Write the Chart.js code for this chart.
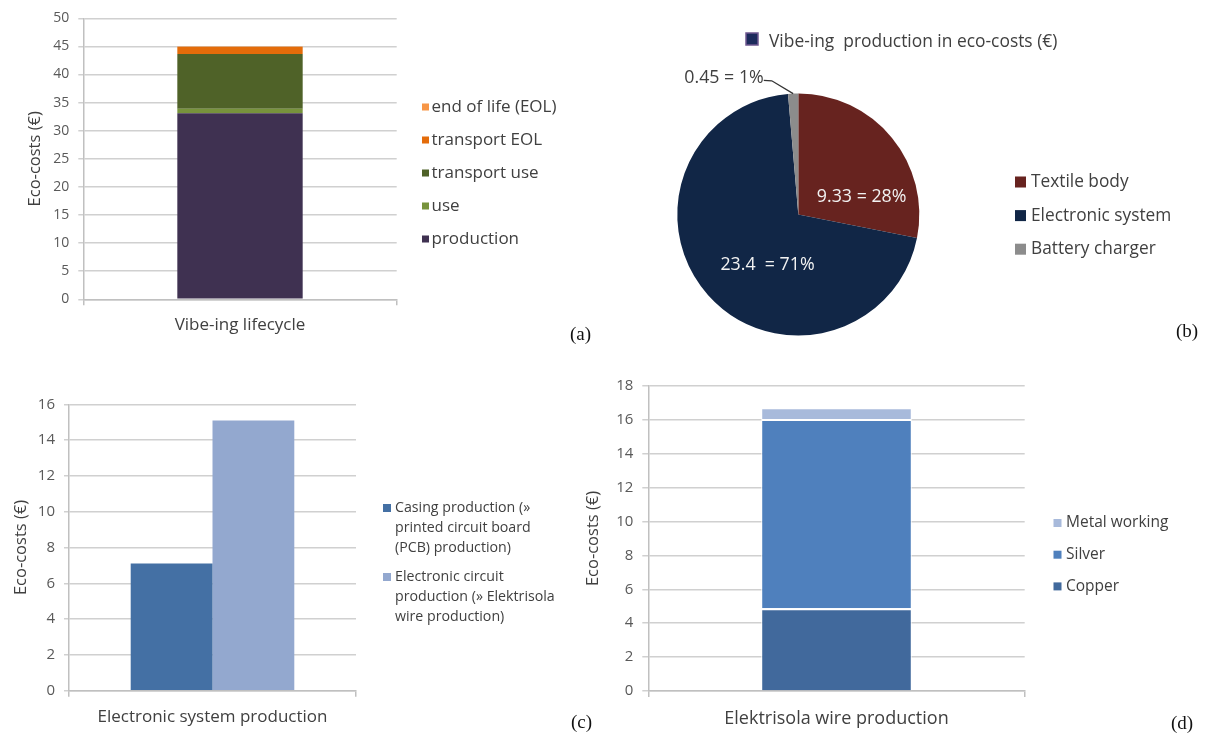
<!DOCTYPE html>
<html><head><meta charset="utf-8">
<script src="https://cdn.jsdelivr.net/npm/chart.js@4.4.1/dist/chart.umd.min.js"></script>
<style>
html,body{margin:0;padding:0;background:#fff;}
#wrap{position:relative;width:1205px;height:733px;overflow:hidden;background:#fff;}
canvas{position:absolute;left:0;top:0;}
.tag{position:absolute;font-family:"Liberation Serif","Times New Roman",serif;font-size:19px;color:#111;line-height:22px;}
</style></head><body>
<div id="wrap">
<canvas id="ca" width="1205" height="733"></canvas>
<canvas id="cb" width="1205" height="733"></canvas>
<canvas id="cc" width="1205" height="733"></canvas>
<canvas id="cd" width="1205" height="733"></canvas>
<div class="tag" style="left:570px;top:323px">(a)</div>
<div class="tag" style="left:1176px;top:320px">(b)</div>
<div class="tag" style="left:571px;top:711px">(c)</div>
<div class="tag" style="left:1171px;top:712px">(d)</div>
</div>
<script>
// ---------- data ----------
const yTitle = 'Eco-costs (€)';

// (a) lifecycle
const lifecycleCategories = ['Vibe-ing lifecycle'];
const lifecycleSeries = ['production', 'use', 'transport use', 'transport EOL', 'end of life (EOL)'];
const production = [33.1];
const use = [0.8];
const transportUse = [9.75];
const transportEOL = [1.3];
const endOfLife = [0.05];
const lifecycleTicks = [0, 5, 10, 15, 20, 25, 30, 35, 40, 45, 50];

// (b) production pie
const pieTitle = 'Vibe-ing  production in eco-costs (€)';
const pieParts = ['Textile body', 'Electronic system', 'Battery charger'];
const pieValues = [9.33, 23.4, 0.45];

// (c) electronic system
const esCategories = ['Electronic system production'];
const esSeries = ['Casing production (» printed circuit board (PCB) production)',
                  'Electronic circuit production (» Elektrisola wire production)'];
const casing = [7.1];
const circuit = [15.1];
const esTicks = [0, 2, 4, 6, 8, 10, 12, 14, 16];

// (d) wire
const wireCategories = ['Elektrisola wire production'];
const wireSeries = ['Copper', 'Silver', 'Metal working'];
const copper = [4.88];
const silver = [11.17];
const metalWorking = [0.69];
const wireTicks = [0, 2, 4, 6, 8, 10, 12, 14, 16, 18];

// ---------- styling / helpers ----------
const FONT = '"Open Sans", Lato, sans-serif';
Chart.defaults.font.family = FONT;
Chart.defaults.animation = false;
Chart.defaults.responsive = false;
Chart.defaults.devicePixelRatio = 1;
Chart.defaults.plugins.legend.display = false;
Chart.defaults.plugins.tooltip.enabled = false;

function wrapText(ctx, text, maxW) {
  if (!maxW) return [text];
  const words = text.split(' '); const lines = []; let cur = '';
  words.forEach(w => {
    const t = cur ? cur + ' ' + w : w;
    if (cur && ctx.measureText(t).width > maxW) { lines.push(cur); cur = w; } else cur = t;
  });
  if (cur) lines.push(cur);
  return lines;
}

const panelLegend = {
  id: 'panelLegend',
  afterDraw(chart, args, o) {
    if (!o || o.x === undefined) return;
    const ctx = chart.ctx; ctx.save();
    ctx.font = `${o.size}px ${FONT}`; ctx.textBaseline = 'middle'; ctx.textAlign = 'left';
    let items;
    if (o.source === 'labels') {
      const ds = chart.data.datasets[0];
      items = chart.data.labels.map((l, i) => ({text: l, color: ds.backgroundColor[i]}));
    } else {
      items = chart.data.datasets.map(d => ({text: d.label, color: d.backgroundColor}));
    }
    if (o.reverse) items.reverse();
    let y = o.y;
    const lh = o.lineHeight || 0;
    items.forEach(it => {
      const lines = wrapText(ctx, it.text, o.maxWidth);
      ctx.fillStyle = it.color;
      ctx.fillRect(o.x, y - o.box / 2 + (o.boxDy || 0), o.box, o.box);
      ctx.fillStyle = o.color;
      lines.forEach((ln, k) => ctx.fillText(ln, o.x + o.box + o.gap, y + k * lh));
      y += (lines.length - 1) * lh + o.dy;
    });
    if (o.header) {
      const h = o.header;
      ctx.font = `${h.size}px ${FONT}`;
      ctx.fillStyle = h.fill; ctx.fillRect(h.x, h.y - h.box / 2, h.box, h.box);
      ctx.strokeStyle = h.stroke; ctx.lineWidth = 1.5; ctx.strokeRect(h.x, h.y - h.box / 2, h.box, h.box);
      ctx.fillStyle = o.color;
      ctx.fillText(chart.data.datasets[0].label, h.x + h.box + h.gap, h.y + (h.textDy || 0));
    }
    ctx.restore();
  }
};

const sliceLabels = {
  id: 'sliceLabels',
  afterDatasetsDraw(chart, args, o) {
    if (!o || !o.items) return;
    const meta = chart.getDatasetMeta(0); const ds = chart.data.datasets[0];
    const total = ds.data.reduce((a, b) => a + b, 0);
    const ctx = chart.ctx; ctx.save();
    ctx.font = `${o.size}px ${FONT}`; ctx.textBaseline = 'middle'; ctx.textAlign = 'center';
    meta.data.forEach((arc, i) => {
      const st = o.items[i]; const v = ds.data[i];
      const txt = v + st.sep + Math.round(v / total * 100) + '%';
      const p = arc.getProps(['x', 'y', 'startAngle', 'endAngle', 'outerRadius', 'innerRadius'], true);
      const mid = (p.startAngle + p.endAngle) / 2;
      const r = st.outside ? p.outerRadius : (p.innerRadius + p.outerRadius) / 2;
      const ax = p.x + Math.cos(mid) * r, ay = p.y + Math.sin(mid) * r;
      const tx = ax + st.dx, ty = ay + st.dy;
      ctx.fillStyle = st.color; ctx.fillText(txt, tx, ty);
      if (st.outside) {
        const w = ctx.measureText(txt).width;
        ctx.strokeStyle = st.lineColor; ctx.lineWidth = 1.3;
        ctx.beginPath(); ctx.moveTo(tx + w / 2, ty + 2); ctx.lineTo(tx + w / 2 + 8, ty + 2.5); ctx.lineTo(ax, ay); ctx.stroke();
      }
    });
    ctx.restore();
  }
};

const GRID = '#d0d0d0', AXIS = '#c0c0c0', TICK = '#595959', TEXT = '#404040';

function barScales(o) {
  return {
    x: {
      stacked: o.stacked,
      grid: {display: true, drawOnChartArea: false, offset: true, tickLength: 6, color: AXIS, lineWidth: 1.5},
      border: {display: true, color: AXIS, width: 1.5},
      ticks: {font: {size: o.xFont}, color: TEXT, padding: o.xPad},
      afterFit: s => { s.height = 40; }
    },
    y: {
      stacked: o.stacked, min: 0, max: o.ticks[o.ticks.length - 1],
      afterBuildTicks: s => { s.ticks = o.ticks.map(v => ({value: v})); },
      grid: {color: GRID, lineWidth: 1.5, tickLength: o.tickLen},
      border: {display: true, color: AXIS, width: 1.5},
      ticks: {font: {size: o.yFont}, color: TICK, padding: o.yPad},
      title: {display: true, text: yTitle, font: {size: 16.5}, color: TEXT, padding: {top: 0, bottom: 0}},
      afterFit: s => { s.width = o.yW; }
    }
  };
}

// ---------- (a) ----------
new Chart(document.getElementById('ca'), {
  type: 'bar',
  data: {
    labels: lifecycleCategories,
    datasets: [
      {label: lifecycleSeries[0], data: production, backgroundColor: '#3f3151'},
      {label: lifecycleSeries[1], data: use, backgroundColor: '#77933c'},
      {label: lifecycleSeries[2], data: transportUse, backgroundColor: '#4f6228'},
      {label: lifecycleSeries[3], data: transportEOL, backgroundColor: '#e46c0a'},
      {label: lifecycleSeries[4], data: endOfLife, backgroundColor: '#f79646'}
    ].map(d => Object.assign(d, {barPercentage: 0.4, categoryPercentage: 1, borderWidth: 0}))
  },
  options: {
    layout: {padding: {left: 25.1, right: 808.3, top: 18.3, bottom: 393.7}},
    scales: barScales({stacked: true, ticks: lifecycleTicks, yW: 58.2, yPad: 9, tickLen: 5, yFont: 14, xFont: 17, xPad: 10}),
    plugins: {panelLegend: {x: 422, y: 107, dy: 33, box: 7, gap: 2.5, size: 17, color: TEXT, reverse: true}}
  },
  plugins: [panelLegend]
});

// ---------- (b) ----------
new Chart(document.getElementById('cb'), {
  type: 'pie',
  data: {
    labels: pieParts,
    datasets: [{label: pieTitle, data: pieValues, backgroundColor: ['#67231f', '#112646', '#8c8c8c'], borderWidth: 0, hoverOffset: 0}]
  },
  options: {
    layout: {padding: {left: 677.3, right: 285.7, top: 93.5, bottom: 397.5}},
    plugins: {
      panelLegend: {source: 'labels', x: 1015, y: 182, dy: 33.6, box: 11, gap: 5, size: 17.3, color: TEXT,
        header: {x: 746, y: 39, box: 12, gap: 11, size: 17.4, fill: '#1d2b5c', stroke: '#6f5890', textDy: 3}},
      sliceLabels: {size: 17.8, items: [
        {dx: 16.6, dy: 20.6, sep: ' = ', color: '#f2f2f2'},
        {dx: 14.3, dy: 10.1, sep: '  = ', color: '#f2f2f2'},
        {dx: -69.1, dy: -15.3, sep: ' = ', color: TEXT, outside: true, lineColor: '#333'}
      ]}
    }
  },
  plugins: [panelLegend, sliceLabels]
});

// ---------- (c) ----------
new Chart(document.getElementById('cc'), {
  type: 'bar',
  data: {
    labels: esCategories,
    datasets: [
      {label: esSeries[0], data: casing, backgroundColor: '#4470a4'},
      {label: esSeries[1], data: circuit, backgroundColor: '#93a8cf'}
    ].map(d => Object.assign(d, {barPercentage: 1, categoryPercentage: 0.57, borderWidth: 0}))
  },
  options: {
    layout: {padding: {left: 11.8, right: 849, top: 404.3, bottom: 2.3}},
    scales: barScales({stacked: false, ticks: esTicks, yW: 57.2, yPad: 9, tickLen: 5, yFont: 15, xFont: 17, xPad: 10}),
    plugins: {panelLegend: {x: 383, y: 508, dy: 29, lineHeight: 20, maxWidth: 166, box: 8, gap: 4, size: 14.2, color: TEXT}}
  },
  plugins: [panelLegend]
});

// ---------- (d) ----------
new Chart(document.getElementById('cd'), {
  type: 'bar',
  data: {
    labels: wireCategories,
    datasets: [
      {label: wireSeries[0], data: copper, backgroundColor: '#41699c'},
      {label: wireSeries[1], data: silver, backgroundColor: '#4f80bd'},
      {label: wireSeries[2], data: metalWorking, backgroundColor: '#a8badb'}
    ].map(d => Object.assign(d, {barPercentage: 0.4, categoryPercentage: 1, borderColor: '#ffffff',
        borderWidth: {top: 2, left: 1, right: 1, bottom: 0}, borderSkipped: false}))
  },
  options: {
    layout: {padding: {left: 583.1, right: 180.3, top: 386, bottom: 2}},
    scales: barScales({stacked: true, ticks: wireTicks, yW: 65.2, yPad: 9, tickLen: 6, yFont: 15, xFont: 18, xPad: 11}),
    plugins: {panelLegend: {x: 1053.5, y: 523, dy: 31.7, box: 8, gap: 4.5, size: 15.5, color: TEXT, reverse: true}}
  },
  plugins: [panelLegend]
});
</script>
</body></html>
